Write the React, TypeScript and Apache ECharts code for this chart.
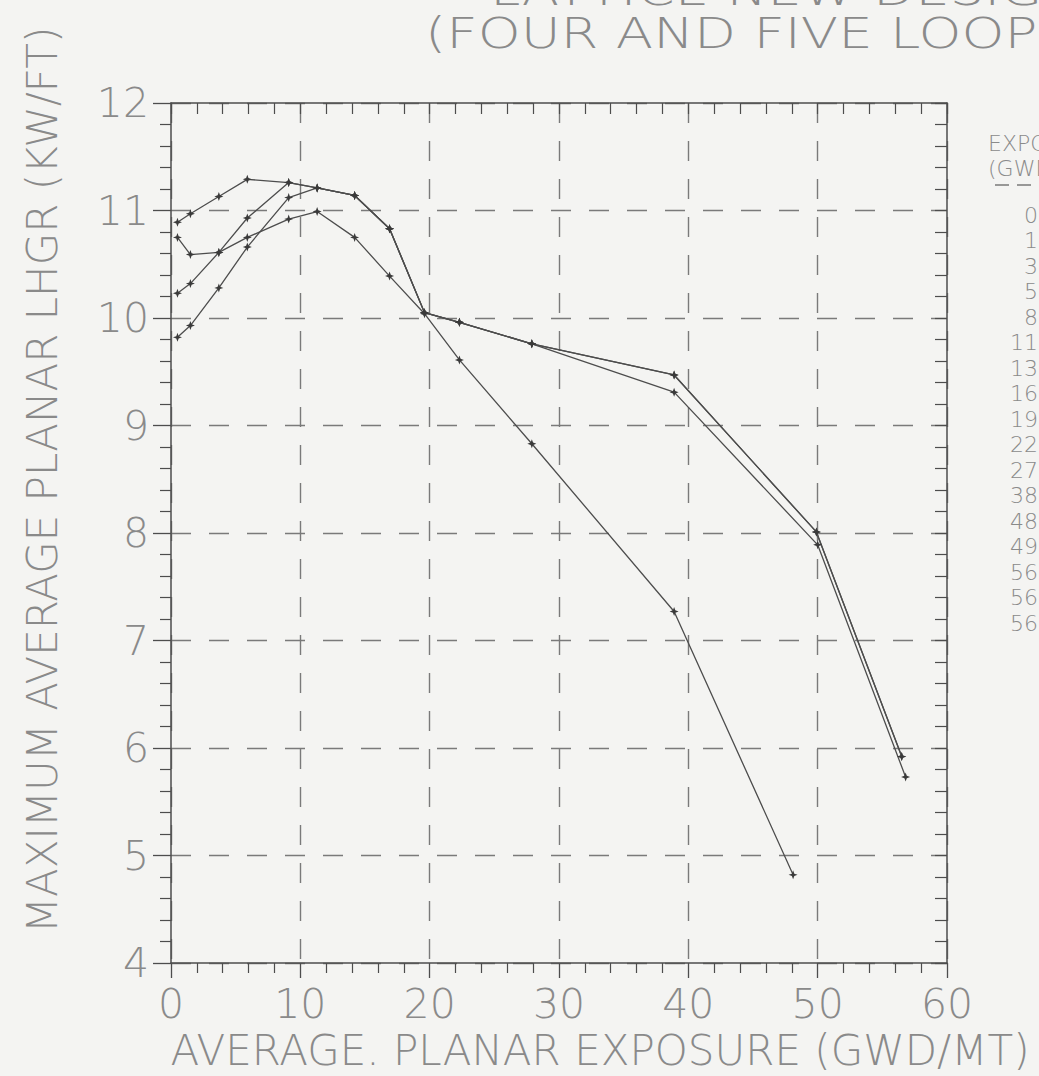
import React, { useEffect, useRef } from "react";
import * as echarts from "echarts";

// ---- data ----
const xTicks = [0, 10, 20, 30, 40, 50, 60];
const yTicks = [4, 5, 6, 7, 8, 9, 10, 11, 12];

const seriesAX = [0.5, 1.5, 3.7, 5.9, 9.1, 11.3, 14.2, 16.9, 19.6, 22.3, 27.9, 38.9, 49.9, 56.5];
const seriesAY = [10.89, 10.97, 11.13, 11.29, 11.26, 11.21, 11.14, 10.83, 10.05, 9.96, 9.76, 9.47, 8.01, 5.92];

const seriesBX = [0.5, 1.5, 3.7, 5.9, 9.1, 11.3, 14.2, 16.9, 19.6, 22.3, 27.9, 38.9, 49.9, 56.5];
const seriesBY = [10.23, 10.32, 10.61, 10.93, 11.26, 11.21, 11.14, 10.83, 10.05, 9.96, 9.76, 9.47, 8.01, 5.92];

const seriesCX = [0.5, 1.5, 3.7, 5.9, 9.1, 11.3, 14.2, 16.9, 19.6, 22.3, 27.9, 38.9, 50.0, 56.8];
const seriesCY = [9.82, 9.93, 10.28, 10.66, 11.12, 11.21, 11.14, 10.83, 10.05, 9.96, 9.76, 9.31, 7.89, 5.73];

const seriesDX = [0.5, 1.5, 3.7, 5.9, 9.1, 11.3, 14.2, 16.9, 19.6, 22.3, 27.9, 38.9, 48.1];
const seriesDY = [10.75, 10.59, 10.61, 10.75, 10.92, 10.99, 10.75, 10.39, 10.04, 9.61, 8.83, 7.27, 4.82];

const legendExposures = ["0", "1", "3", "5", "8", "11", "13", "16", "19", "22", "27", "38", "48", "49", "56", "56", "56"];

const titleLine1 = "LATTICE NEW DESIGN";
const titleLine2 = "(FOUR AND FIVE LOOP OPERATION)";
const xName = "AVERAGE. PLANAR EXPOSURE (GWD/MT)";
const yName = "MAXIMUM AVERAGE PLANAR LHGR (KW/FT)";
const legendHead1 = "EXPOSURE";
const legendHead2 = "(GWD/MT)";

const FONT = "'DejaVu Sans', sans-serif";
const TXT = "#8a8a8a";
const INK = "#4d4d4d";
const STAR = "path://M0,-6L1.6,-1.6L6,0L1.6,1.6L0,6L-1.6,1.6L-6,0L-1.6,-1.6Z";

function pairs(xs: number[], ys: number[]) {
  return xs.map((x, i) => [x, ys[i]]);
}

export default function App() {
  const ref = useRef<HTMLDivElement>(null);
  useEffect(() => {
    if (!ref.current) return;
    const chart = echarts.init(ref.current, undefined, { renderer: "svg" });
    const mkSeries = (name: string, xs: number[], ys: number[]) => ({
      name,
      type: "line",
      data: pairs(xs, ys),
      symbol: STAR,
      symbolSize: 9,
      showSymbol: true,
      lineStyle: { color: INK, width: 1.3 },
      itemStyle: { color: "#3a3a3a" },
      xAxisIndex: 0,
      yAxisIndex: 0,
      z: 5,
    });
    const gridLine = { show: true, lineStyle: { color: "#7a7a7a", width: 1.4, type: [20, 18] } };
    const legendTexts: any[] = legendExposures.map((v, i) => ({
      type: "text",
      style: {
        text: v,
        x: 1038,
        y: 215 + i * 25.5,
        textAlign: "right",
        textVerticalAlign: "middle",
        font: `200 22px ${FONT}`,
        fill: TXT,
      },
    }));
    chart.setOption({
      animation: false,
      backgroundColor: "#f4f4f2",
      grid: { left: 171, top: 103, width: 776, height: 860, containLabel: false },
      xAxis: [
        {
          type: "value",
          min: xTicks[0],
          max: xTicks[xTicks.length - 1],
          interval: 10,
          position: "bottom",
          axisLine: { show: true, onZero: false, lineStyle: { color: INK, width: 1.5 } },
          axisTick: { show: true, inside: false, length: 15, lineStyle: { color: INK, width: 1.3 } },
          minorTick: { show: true, splitNumber: 5, length: 10, lineStyle: { color: INK, width: 1.2 } },
          axisLabel: { show: true, margin: 20, color: TXT, fontSize: 41, fontFamily: FONT, fontWeight: 200 },
          splitLine: gridLine,
        },
        {
          type: "value",
          min: xTicks[0],
          max: xTicks[xTicks.length - 1],
          interval: 10,
          position: "top",
          axisLine: { show: true, onZero: false, lineStyle: { color: INK, width: 1.5 } },
          axisTick: { show: true, inside: true, length: 11, lineStyle: { color: INK, width: 1.2 } },
          minorTick: { show: true, splitNumber: 5, length: 11, lineStyle: { color: INK, width: 1.2 } },
          axisLabel: { show: false },
          splitLine: { show: false },
        },
      ],
      yAxis: [
        {
          type: "value",
          min: yTicks[0],
          max: yTicks[yTicks.length - 1],
          interval: 1,
          position: "left",
          axisLine: { show: true, onZero: false, lineStyle: { color: INK, width: 1.5 } },
          axisTick: { show: true, inside: false, length: 18, lineStyle: { color: INK, width: 1.3 } },
          minorTick: { show: true, splitNumber: 5, length: 11, lineStyle: { color: INK, width: 1.2 } },
          axisLabel: { show: true, margin: 22, color: TXT, fontSize: 41, fontFamily: FONT, fontWeight: 200 },
          splitLine: gridLine,
        },
        {
          type: "value",
          min: yTicks[0],
          max: yTicks[yTicks.length - 1],
          interval: 1,
          position: "right",
          axisLine: { show: true, onZero: false, lineStyle: { color: INK, width: 1.5 } },
          axisTick: { show: true, inside: true, length: 12, lineStyle: { color: INK, width: 1.2 } },
          minorTick: { show: true, splitNumber: 5, length: 12, lineStyle: { color: INK, width: 1.2 } },
          axisLabel: { show: false },
          splitLine: { show: false },
        },
      ],
      series: [
        mkSeries("A", seriesAX, seriesAY),
        mkSeries("B", seriesBX, seriesBY),
        mkSeries("C", seriesCX, seriesCY),
        mkSeries("D", seriesDX, seriesDY),
      ],
      graphic: [
        {
          type: "text",
          x: 490,
          y: -10,
          scaleX: 1.3,
          style: { text: titleLine1, x: 0, y: 0, textVerticalAlign: "middle", font: `200 42px ${FONT}`, fill: TXT },
        },
        {
          type: "text",
          x: 425,
          y: 33,
          scaleX: 1.3,
          style: { text: titleLine2, x: 0, y: 0, textVerticalAlign: "middle", font: `200 42px ${FONT}`, fill: TXT },
        },
        {
          type: "text",
          style: { text: xName, x: 600, y: 1050, textAlign: "center", textVerticalAlign: "middle", font: `200 42px ${FONT}`, fill: TXT },
        },
        {
          type: "text",
          x: 42,
          y: 480,
          rotation: Math.PI / 2,
          style: { text: yName, x: 0, y: 0, textAlign: "center", textVerticalAlign: "middle", font: `200 42px ${FONT}`, fill: TXT },
        },
        {
          type: "text",
          style: { text: legendHead1, x: 988, y: 143, textVerticalAlign: "middle", font: `200 22px ${FONT}`, fill: TXT },
        },
        {
          type: "text",
          style: { text: legendHead2, x: 988, y: 168, textVerticalAlign: "middle", font: `200 22px ${FONT}`, fill: TXT },
        },
        {
          type: "line",
          shape: { x1: 995, y1: 185, x2: 1039, y2: 185 },
          style: { stroke: "#7a7a7a", lineWidth: 1.5, lineDash: [14, 8] },
        },
        ...legendTexts,
      ],
    });
    return () => chart.dispose();
  }, []);
  return (
    <div
      ref={ref}
      style={{ position: "absolute", left: 0, top: 0, width: 1039, height: 1076, overflow: "hidden" }}
    />
  );
}
